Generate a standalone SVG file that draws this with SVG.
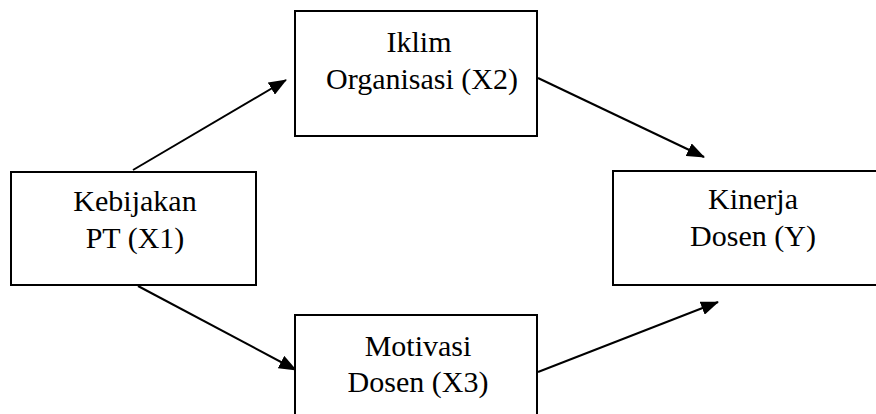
<svg xmlns="http://www.w3.org/2000/svg" width="876" height="414" viewBox="0 0 876 414">
<style>
.box{fill:#fff;stroke:#000;stroke-width:2}
.t{font-family:"Liberation Serif","Times New Roman",serif;font-size:30px;text-anchor:middle;fill:#000}
.c{stroke:#000;stroke-width:2;fill:none;marker-end:url(#ah)}
</style>
<defs>
<marker id="ah" markerUnits="userSpaceOnUse" markerWidth="18" markerHeight="14" refX="17" refY="7" orient="auto">
<path d="M0,0 L18,7 L0,14 z" fill="#000"/>
</marker>
</defs>
<rect width="876" height="414" fill="#fff"/>
<g id="connectors">
<line class="c" x1="133" y1="170" x2="286" y2="80"/>
<line class="c" x1="538" y1="78" x2="704" y2="157"/>
<line class="c" x1="138" y1="286" x2="296" y2="370"/>
<line class="c" x1="538" y1="372" x2="718" y2="302"/>
</g>
<g id="x2">
<rect class="box" x="295" y="11" width="242" height="125"/>
<text class="t" x="419" y="52">Iklim</text>
<text class="t" x="422" y="89">Organisasi (X2)</text>
</g>
<g id="x1">
<rect class="box" x="11" y="172" width="245" height="113"/>
<text class="t" x="135" y="211">Kebijakan</text>
<text class="t" x="135" y="248">PT (X1)</text>
</g>
<g id="y">
<rect class="box" x="613" y="171" width="280" height="114"/>
<text class="t" x="753" y="209">Kinerja</text>
<text class="t" x="753" y="246">Dosen (Y)</text>
</g>
<g id="x3">
<rect class="box" x="295" y="315" width="242" height="110"/>
<text class="t" x="418" y="356">Motivasi</text>
<text class="t" x="418" y="392">Dosen (X3)</text>
</g>
</svg>
